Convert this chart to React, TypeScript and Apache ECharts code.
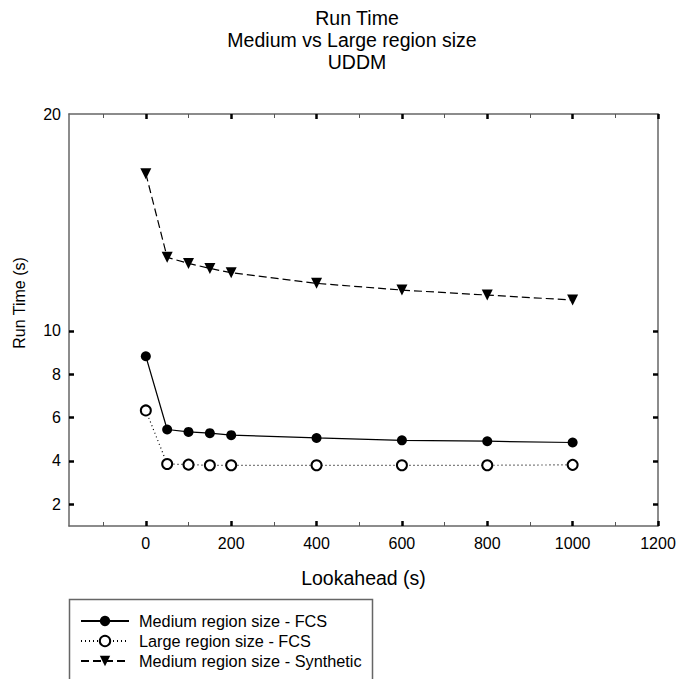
import React, { useEffect, useRef } from "react";
import * as echarts from "echarts";

const lookahead = [0, 50, 100, 150, 200, 400, 600, 800, 1000];
const mediumFCS = [8.83, 5.45, 5.34, 5.28, 5.19, 5.06, 4.95, 4.91, 4.85];
const largeFCS = [6.33, 3.86, 3.83, 3.8, 3.8, 3.8, 3.8, 3.8, 3.82];
const synthetic = [17.25, 13.39, 13.11, 12.88, 12.68, 12.19, 11.88, 11.65, 11.42];

const xMajorTicks = [0, 200, 400, 600, 800, 1000, 1200];
const xMinorTicks = [-100, 100, 300, 500, 700, 900, 1100];
const yTickLabels = [2, 4, 6, 8, 10, 20];
const yTicks = [2, 4, 6, 8, 10];

const titleLines = ["Run Time", "Medium vs Large region size", "UDDM"];
const seriesNames = [
  "Medium region size - FCS",
  "Large region size - FCS",
  "Medium region size - Synthetic",
];

const FONT = "'Liberation Sans', Arial, sans-serif";

export default function App() {
  const ref = useRef<HTMLDivElement>(null);
  useEffect(() => {
    if (!ref.current) return;
    const chart = echarts.init(ref.current, null, { renderer: "svg" });
    const pair = (ys: number[]) => lookahead.map((x, i) => [x, ys[i]]);
    const gridPos = { left: 69, right: 19, top: 114, bottom: 153, outerBoundsMode: "none" as any };
    const frameLine = { show: true, onZero: false, lineStyle: { color: "#666", width: 1.5 } };
    const noLine = { show: false, onZero: false };
    const majorTick = { show: true, inside: true, length: 5, lineStyle: { color: "#000", width: 2.5 } };
    const minorTick = { show: true, inside: true, length: 4, lineStyle: { color: "#555", width: 1 } };
    const plain = (v: number) => String(v);
    chart.setOption({
      animation: false,
      textStyle: { fontFamily: FONT },
      grid: [gridPos, gridPos],
      xAxis: [
        {
          gridIndex: 0,
          type: "value",
          position: "bottom",
          min: -180,
          max: 1200,
          axisLine: frameLine,
          axisTick: { ...majorTick, customValues: xMajorTicks },
          axisLabel: { customValues: xMajorTicks, formatter: plain, color: "#000", fontSize: 16, margin: 9, fontFamily: FONT },
          splitLine: { show: false },
          name: "Lookahead (s)",
          nameLocation: "middle",
          nameGap: 42,
          nameTextStyle: { fontSize: 19.5, color: "#000", fontFamily: FONT },
        },
        {
          gridIndex: 0,
          type: "value",
          position: "top",
          min: -180,
          max: 1200,
          axisLine: frameLine,
          axisTick: { ...majorTick, customValues: xMajorTicks },
          axisLabel: { show: false },
          splitLine: { show: false },
        },
        {
          gridIndex: 1,
          type: "value",
          position: "bottom",
          min: -180,
          max: 1200,
          axisLine: noLine,
          axisTick: { ...minorTick, customValues: xMinorTicks },
          axisLabel: { show: false },
          splitLine: { show: false },
        },
        {
          gridIndex: 1,
          type: "value",
          position: "top",
          min: -180,
          max: 1200,
          axisLine: noLine,
          axisTick: { ...minorTick, customValues: xMinorTicks },
          axisLabel: { show: false },
          splitLine: { show: false },
        },
      ],
      yAxis: [
        {
          gridIndex: 0,
          type: "value",
          position: "left",
          min: 1,
          max: 20,
          axisLine: frameLine,
          axisTick: { ...majorTick, customValues: yTicks },
          axisLabel: { customValues: yTickLabels, formatter: plain, color: "#000", fontSize: 16, margin: 8, fontFamily: FONT },
          splitLine: { show: false },
        },
        {
          gridIndex: 0,
          type: "value",
          position: "right",
          min: 1,
          max: 20,
          axisLine: frameLine,
          axisTick: { ...majorTick, customValues: yTicks },
          axisLabel: { show: false },
          splitLine: { show: false },
        },
        {
          gridIndex: 1,
          type: "value",
          min: 1,
          max: 20,
          show: false,
          axisLine: noLine,
        },
      ],
      legend: {
        orient: "vertical",
        left: 80,
        top: 613,
        padding: 0,
        itemWidth: 48,
        itemHeight: 13,
        itemGap: 4,
        textStyle: { fontSize: 16.3, color: "#000", lineHeight: 16, padding: [0, 0, 0, 5], fontFamily: FONT },
        data: seriesNames,
      },
      graphic: [
        ...titleLines.map((t, i) => ({
          type: "text",
          x: i === 1 ? 352 : 357,
          y: 18 + i * 22,
          style: {
            text: t,
            fontSize: 19.5,
            fontFamily: FONT,
            fill: "#000",
            align: "center",
            verticalAlign: "middle",
          },
        })),
        {
          type: "text",
          x: 19,
          y: 303,
          rotation: Math.PI / 2,
          style: {
            text: "Run Time (s)",
            fontSize: 16,
            fontFamily: FONT,
            fill: "#000",
            align: "center",
            verticalAlign: "middle",
          },
        },
        {
          type: "rect",
          shape: { x: 69.5, y: 599.5, width: 303, height: 120 },
          style: { fill: "none", stroke: "#666", lineWidth: 1.5 },
        },
      ],
      series: [
        {
          name: seriesNames[0],
          type: "line",
          data: pair(mediumFCS),
          symbol: "circle",
          symbolSize: 10,
          itemStyle: { color: "#000" },
          lineStyle: { color: "#000", width: 1.2, type: "solid" },
        },
        {
          name: seriesNames[1],
          type: "line",
          data: pair(largeFCS),
          symbol: "emptyCircle",
          symbolSize: 10,
          itemStyle: { color: "#000", borderWidth: 1.2 },
          lineStyle: { color: "#000", width: 1.2, type: [1, 3] },
        },
        {
          name: seriesNames[2],
          type: "line",
          data: pair(synthetic),
          symbol: "triangle",
          symbolRotate: 180,
          symbolSize: 11,
          itemStyle: { color: "#000" },
          lineStyle: { color: "#000", width: 1.2, type: [8, 4] },
        },
      ],
    });
    return () => chart.dispose();
  }, []);
  return (
    <div
      ref={ref}
      style={{ position: "fixed", left: 0, top: 0, width: 677, height: 679, background: "#fff" }}
    />
  );
}
